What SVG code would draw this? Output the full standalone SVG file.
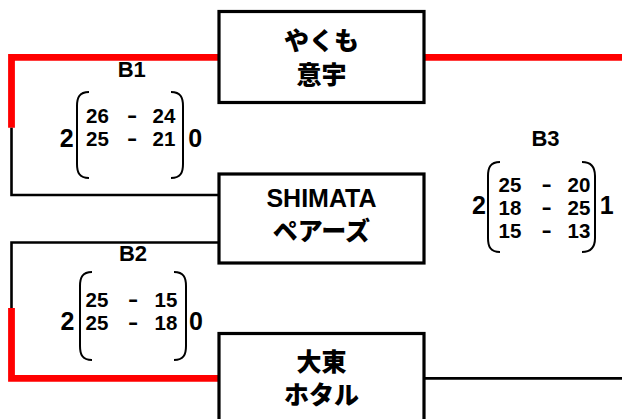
<svg xmlns="http://www.w3.org/2000/svg" width="622" height="419" viewBox="0 0 622 419">
<style>
.box{fill:#fff;stroke:#000;stroke-width:3.2}
.red{fill:none;stroke:#f00;stroke-width:6.8;stroke-linejoin:miter;stroke-linecap:butt}
.blk{fill:none;stroke:#000;stroke-width:2.6;stroke-linejoin:miter}
.par{fill:none;stroke:#000;stroke-width:2}
.nm{font-family:"Liberation Sans","Noto Sans CJK JP",sans-serif;font-weight:900;font-size:25px;text-anchor:middle;fill:#000}
.lb{font-family:"Liberation Sans",sans-serif;font-weight:bold;font-size:22px;text-anchor:middle;fill:#000}
.sc{font-family:"Liberation Sans",sans-serif;font-weight:bold;font-size:20.5px;text-anchor:middle;fill:#000}
.big{font-family:"Liberation Sans",sans-serif;font-weight:bold;font-size:25px;text-anchor:middle;fill:#000}
</style>
<rect width="622" height="419" fill="#fff"/>
<g id="connectors">
<polyline class="red" points="219,57.3 11.5,57.3 11.5,127.7"/>
<polyline class="blk" points="11.5,127.7 11.5,195 219,195"/>
<line class="red" x1="424" y1="57.3" x2="622" y2="57.3"/>
<polyline class="blk" points="219,242.5 11.5,242.5 11.5,309"/>
<polyline class="red" points="11.5,308 11.5,378.4 219,378.4"/>
<line class="blk" x1="424" y1="378.4" x2="622" y2="378.4"/>
</g>
<g id="team-yakumo">
<rect class="box" x="219" y="11.5" width="205" height="91"/>
<text class="nm" x="321.5" y="49.5">やくも</text>
<text class="nm" x="321.5" y="83.5">意宇</text>
</g>
<g id="team-shimata">
<rect class="box" x="219" y="174" width="205" height="89"/>
<text class="nm" x="321.5" y="207">SHIMATA</text>
<text class="nm" x="321.5" y="239.5">ペアーズ</text>
</g>
<g id="team-daito">
<rect class="box" x="219" y="333.5" width="205" height="100"/>
<text class="nm" x="321.5" y="370.5">大東</text>
<text class="nm" x="321.5" y="403.5">ホタル</text>
</g>
<g id="match-b1">
<text class="lb" x="131.7" y="77">B1</text>
<path class="par" d="M89,92 C79,92 77,98 77,106 L77,164 C77,172 79,178 89,178"/>
<path class="par" d="M171,92 C181,92 183,98 183,106 L183,164 C183,172 181,178 171,178"/>
<text class="sc" x="97.5" y="123">26</text><text class="sc" transform="translate(132,122) scale(1.5,1)">-</text><text class="sc" x="164" y="123">24</text>
<text class="sc" x="97.5" y="146">25</text><text class="sc" transform="translate(132,145) scale(1.5,1)">-</text><text class="sc" x="164" y="146">21</text>
<text class="big" x="66.8" y="146.5">2</text>
<text class="big" x="195.3" y="146.5">0</text>
</g>
<g id="match-b2">
<text class="lb" x="133" y="260.5">B2</text>
<path class="par" d="M92,272 C82,272 80,278 80,286 L80,346 C80,354 82,360 92,360"/>
<path class="par" d="M174,272 C184,272 186,278 186,286 L186,346 C186,354 184,360 174,360"/>
<text class="sc" x="97" y="306.7">25</text><text class="sc" transform="translate(133,305.7) scale(1.5,1)">-</text><text class="sc" x="166" y="306.7">15</text>
<text class="sc" x="97" y="329.5">25</text><text class="sc" transform="translate(133,328.5) scale(1.5,1)">-</text><text class="sc" x="166" y="329.5">18</text>
<text class="big" x="67.5" y="330">2</text>
<text class="big" x="196" y="330">0</text>
</g>
<g id="match-b3">
<text class="lb" x="545.5" y="146">B3</text>
<path class="par" d="M500,162 C490,162 488,168 488,176 L488,238 C488,246 490,252 500,252"/>
<path class="par" d="M582,162 C592,162 595,168 595,176 L595,238 C595,246 592,252 582,252"/>
<text class="sc" x="510" y="191.5">25</text><text class="sc" transform="translate(546.7,190.5) scale(1.5,1)">-</text><text class="sc" x="579" y="191.5">20</text>
<text class="sc" x="510" y="214.5">18</text><text class="sc" transform="translate(546.7,213.5) scale(1.5,1)">-</text><text class="sc" x="579" y="214.5">25</text>
<text class="sc" x="510" y="237.5">15</text><text class="sc" transform="translate(546.7,236.5) scale(1.5,1)">-</text><text class="sc" x="579" y="237.5">13</text>
<text class="big" x="479" y="213.5">2</text>
<text class="big" x="606.7" y="213.5">1</text>
</g>
</svg>
